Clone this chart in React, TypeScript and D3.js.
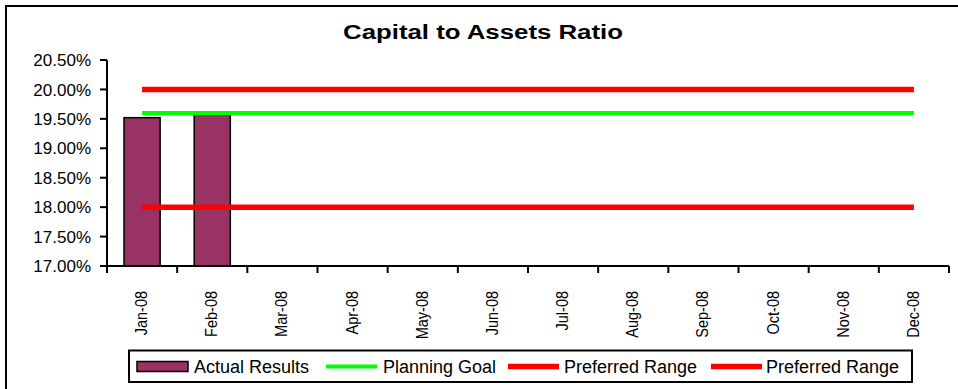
import React from "react";
import * as d3 from "d3";

const months = ["Jan-08", "Feb-08", "Mar-08", "Apr-08", "May-08", "Jun-08", "Jul-08", "Aug-08", "Sep-08", "Oct-08", "Nov-08", "Dec-08"];
const actualResults: (number | null)[] = [19.52, 19.62, null, null, null, null, null, null, null, null, null, null];
const planningGoal = [19.6, 19.6, 19.6, 19.6, 19.6, 19.6, 19.6, 19.6, 19.6, 19.6, 19.6, 19.6];
const preferredHigh = [20.0, 20.0, 20.0, 20.0, 20.0, 20.0, 20.0, 20.0, 20.0, 20.0, 20.0, 20.0];
const preferredLow = [18.0, 18.0, 18.0, 18.0, 18.0, 18.0, 18.0, 18.0, 18.0, 18.0, 18.0, 18.0];
const yTicks = [17.0, 17.5, 18.0, 18.5, 19.0, 19.5, 20.0, 20.5];
const title = "Capital to Assets Ratio";

const W = 958, H = 389;
const left = 107, right = 949, top = 60, bottom = 266;
const FONT = "'Liberation Sans', Arial, sans-serif";

export default function App() {
  const x = d3.scaleBand<string>().domain(months).range([left, right]).paddingInner(0).paddingOuter(0);
  const y = d3.scaleLinear().domain([17, 20.5]).range([bottom, top]);
  const bw = x.bandwidth();
  const barW = bw * 0.515;
  const cx = (m: string) => (x(m) as number) + bw / 2;
  const line = d3.line<number>().x((_, i) => cx(months[i])).y((v) => y(v));

  const legendY = 366.5;
  const legendItems = [
    { label: "Actual Results", kind: "bar", color: "#993366", px: 137, tx: 194 },
    { label: "Planning Goal", kind: "line", color: "#00FF00", px: 326, tx: 383 },
    { label: "Preferred Range", kind: "line", color: "#FF0000", px: 508, tx: 564 },
    { label: "Preferred Range", kind: "line", color: "#FF0000", px: 711, tx: 766 },
  ];

  return (
    <svg width={W} height={H} style={{ position: "absolute", left: 0, top: 0, background: "#fff" }} fontFamily={FONT}>
      <rect x={0} y={0} width={W} height={H} fill="#fff" />
      <rect x={6} y={6} width={W + 20} height={H + 20} fill="none" stroke="#000" strokeWidth={2} />
      <text x={483} y={39} textAnchor="middle" fontSize={20} fontWeight="bold" textLength={280} lengthAdjust="spacingAndGlyphs">{title}</text>

      {/* bars */}
      {months.map((m, i) =>
        actualResults[i] == null ? null : (
          <rect key={m} x={cx(m) - barW / 2} y={y(actualResults[i] as number)} width={barW}
            height={bottom - y(actualResults[i] as number)} fill="#993366" stroke="#000" strokeWidth={1.5} />
        )
      )}

      {/* lines */}
      <path d={line(preferredHigh) as string} fill="none" stroke="#FF0000" strokeWidth={5.5} />
      <path d={line(planningGoal) as string} fill="none" stroke="#00FF00" strokeWidth={4} />
      <path d={line(preferredLow) as string} fill="none" stroke="#FF0000" strokeWidth={5.5} />

      {/* y axis */}
      <line x1={left} x2={left} y1={top} y2={bottom} stroke="#000" strokeWidth={2} />
      {yTicks.map((t) => (
        <g key={t}>
          <line x1={left - 7} x2={left} y1={y(t)} y2={y(t)} stroke="#000" strokeWidth={2} />
          <text x={91} y={y(t)} dy="0.36em" textAnchor="end" fontSize={17}>{t.toFixed(2)}%</text>
        </g>
      ))}

      {/* x axis */}
      <line x1={left} x2={right} y1={bottom} y2={bottom} stroke="#000" strokeWidth={2} />
      {months.map((m) => (
        <line key={"t" + m} x1={x(m) as number} x2={x(m) as number} y1={bottom} y2={bottom + 7} stroke="#000" strokeWidth={2} />
      ))}
      <line x1={right} x2={right} y1={bottom} y2={bottom + 7} stroke="#000" strokeWidth={2} />
      {months.map((m) => (
        <text key={"l" + m} transform={`translate(${cx(m) - 1},${291}) rotate(-90) scale(1,1.15)`} textAnchor="end" dy="0.36em" fontSize={14.5}>{m}</text>
      ))}

      {/* legend */}
      <rect x={129} y={350.5} width={783} height={31.5} fill="#fff" stroke="#000" strokeWidth={2} />
      {legendItems.map((it, i) => (
        <g key={i}>
          {it.kind === "bar" ? (
            <rect x={it.px} y={legendY - 5} width={51} height={10} fill={it.color} stroke="#000" strokeWidth={1.5} />
          ) : (
            <line x1={it.px} x2={it.px + 51} y1={legendY} y2={legendY} stroke={it.color} strokeWidth={it.color === "#00FF00" ? 4 : 5.5} />
          )}
          <text x={it.tx} y={legendY} dy="0.36em" fontSize={18}>{it.label}</text>
        </g>
      ))}
    </svg>
  );
}
